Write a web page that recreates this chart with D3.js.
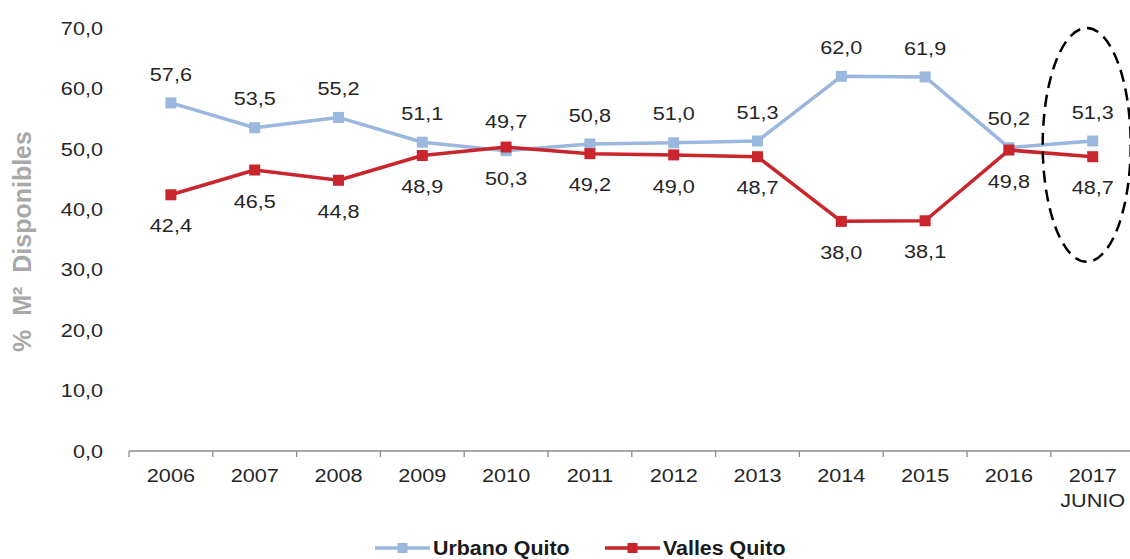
<!DOCTYPE html>
<html>
<head>
<meta charset="utf-8">
<script src="https://cdn.jsdelivr.net/npm/d3@7"></script>
<style>
  html, body { margin: 0; padding: 0; background: #fff; }
  svg { display: block; font-family: "Liberation Sans", Arial, sans-serif; }
</style>
</head>
<body>
<svg id="chart" width="1130" height="559"></svg>
<script>
// Years on the category axis, with a second line under the last one
const categories = ["2006", "2007", "2008", "2009", "2010", "2011", "2012", "2013", "2014", "2015", "2016", "2017"];
const categorySubLabels = ["", "", "", "", "", "", "", "", "", "", "", "JUNIO"];

// Share of available square metres (%)
const urbanoQuito = [57.6, 53.5, 55.2, 51.1, 49.7, 50.8, 51.0, 51.3, 62.0, 61.9, 50.2, 51.3];
const vallesQuito = [42.4, 46.5, 44.8, 48.9, 50.3, 49.2, 49.0, 48.7, 38.0, 38.1, 49.8, 48.7];

const yTicks = [0, 10, 20, 30, 40, 50, 60, 70];
const seriesNames = ["Urbano Quito", "Valles Quito"];

const colorUrbano = "#9ab7dd";
const colorValles = "#c9252c";
const textColor = "#262626";
const stretch = 1.14;   // horizontal widening applied to the regular text

const svg = d3.select("#chart");

const x = d3.scaleBand().domain(categories).range([129, 129 + 12 * 83.8]);
const y = d3.scaleLinear().domain([0, 70]).range([451, 28]);
const cx = c => x(c) + x.bandwidth() / 2;
const fmt = v => d3.format(".1f")(v).replace(".", ",");

// Places a text at (px, py) with the horizontal widening
const place = (px, py, s = stretch) => `translate(${px},${py}) scale(${s},1)`;

// Y-axis tick labels (no axis line)
svg.append("g").selectAll("text")
  .data(yTicks)
  .join("text")
  .attr("transform", d => place(103, y(d)))
  .attr("dy", "0.35em")
  .attr("text-anchor", "end")
  .attr("font-size", 19)
  .attr("fill", textColor)
  .text(fmt);

// Y-axis title
svg.append("text")
  .attr("transform", `translate(31,${(y(70) + y(0)) / 2 + 2}) rotate(-90)`)
  .attr("text-anchor", "middle")
  .attr("font-size", 25)
  .attr("font-weight", "bold")
  .attr("fill", "#a8a8a8")
  .attr("xml:space", "preserve")
  .text("%  M²  Disponibles");

// Category axis: baseline with ticks on band boundaries
const xAxis = svg.append("g");
const [x0, x1] = x.range();
xAxis.append("line")
  .attr("x1", x0).attr("x2", x1)
  .attr("y1", y(0)).attr("y2", y(0))
  .attr("stroke", "#8c8c8c").attr("stroke-width", 1.3);
xAxis.selectAll("line.tick")
  .data(categories.map(c => x(c)).concat([x1]))
  .join("line")
  .attr("class", "tick")
  .attr("x1", d => d).attr("x2", d => d)
  .attr("y1", y(0)).attr("y2", y(0) + 6)
  .attr("stroke", "#8c8c8c").attr("stroke-width", 1.3);

xAxis.selectAll("text.cat")
  .data(categories)
  .join("text")
  .attr("class", "cat")
  .attr("transform", d => place(cx(d), y(0) + 24))
  .attr("dy", "0.35em")
  .attr("text-anchor", "middle")
  .attr("font-size", 19)
  .attr("fill", textColor)
  .text(d => d);
xAxis.selectAll("text.sub")
  .data(categories.map((c, i) => ({ c, s: categorySubLabels[i] })).filter(d => d.s))
  .join("text")
  .attr("class", "sub")
  .attr("transform", d => place(cx(d.c), y(0) + 49))
  .attr("dy", "0.35em")
  .attr("text-anchor", "middle")
  .attr("font-size", 19)
  .attr("fill", textColor)
  .text(d => d.s);

// Series lines and square markers
const line = d3.line().x(d => cx(d.c)).y(d => y(d.v));

function drawSeries(values, color) {
  const pts = categories.map((c, i) => ({ c, v: values[i] }));
  const g = svg.append("g");
  g.append("path")
    .datum(pts)
    .attr("d", line)
    .attr("fill", "none")
    .attr("stroke", color)
    .attr("stroke-width", 3.5)
    .attr("stroke-linejoin", "round");
  g.selectAll("rect")
    .data(pts)
    .join("rect")
    .attr("x", d => cx(d.c) - 5.5)
    .attr("y", d => y(d.v) - 5.5)
    .attr("width", 11)
    .attr("height", 11)
    .attr("fill", color);
  return pts;
}

const ptsU = drawSeries(urbanoQuito, colorUrbano);
const ptsV = drawSeries(vallesQuito, colorValles);

// Value labels: above for Urbano, below for Valles
function drawLabels(pts, offset) {
  svg.append("g").selectAll("text")
    .data(pts)
    .join("text")
    .attr("transform", d => place(cx(d.c), y(d.v) + offset))
    .attr("dy", "0.35em")
    .attr("text-anchor", "middle")
    .attr("font-size", 19)
    .attr("fill", textColor)
    .text(d => fmt(d.v));
}
drawLabels(ptsU, -29);
drawLabels(ptsV, 31);

// Dashed ellipse highlighting the latest (partial-year) values
svg.append("ellipse")
  .attr("cx", cx("2017") - 6)
  .attr("cy", (y(70) + y(31.3)) / 2)
  .attr("rx", 44)
  .attr("ry", (y(31.3) - y(70)) / 2)
  .attr("fill", "none")
  .attr("stroke", "#000")
  .attr("stroke-width", 2.5)
  .attr("stroke-dasharray", "12,7");

// Legend
const legendItems = [
  { name: seriesNames[0], color: colorUrbano, x: 375 },
  { name: seriesNames[1], color: colorValles, x: 605 }
];
const lg = svg.append("g").selectAll("g")
  .data(legendItems)
  .join("g")
  .attr("transform", d => `translate(${d.x},548)`);
lg.append("line")
  .attr("x1", 0).attr("x2", 55)
  .attr("stroke", d => d.color)
  .attr("stroke-width", 3.5);
lg.append("rect")
  .attr("x", 22.5).attr("y", -5)
  .attr("width", 10).attr("height", 10)
  .attr("fill", d => d.color);
lg.append("text")
  .attr("transform", "translate(58,0) scale(1.07,1)")
  .attr("dy", "0.35em")
  .attr("font-size", 20)
  .attr("font-weight", "bold")
  .attr("fill", "#1a1a1a")
  .text(d => d.name);
</script>
</body>
</html>
